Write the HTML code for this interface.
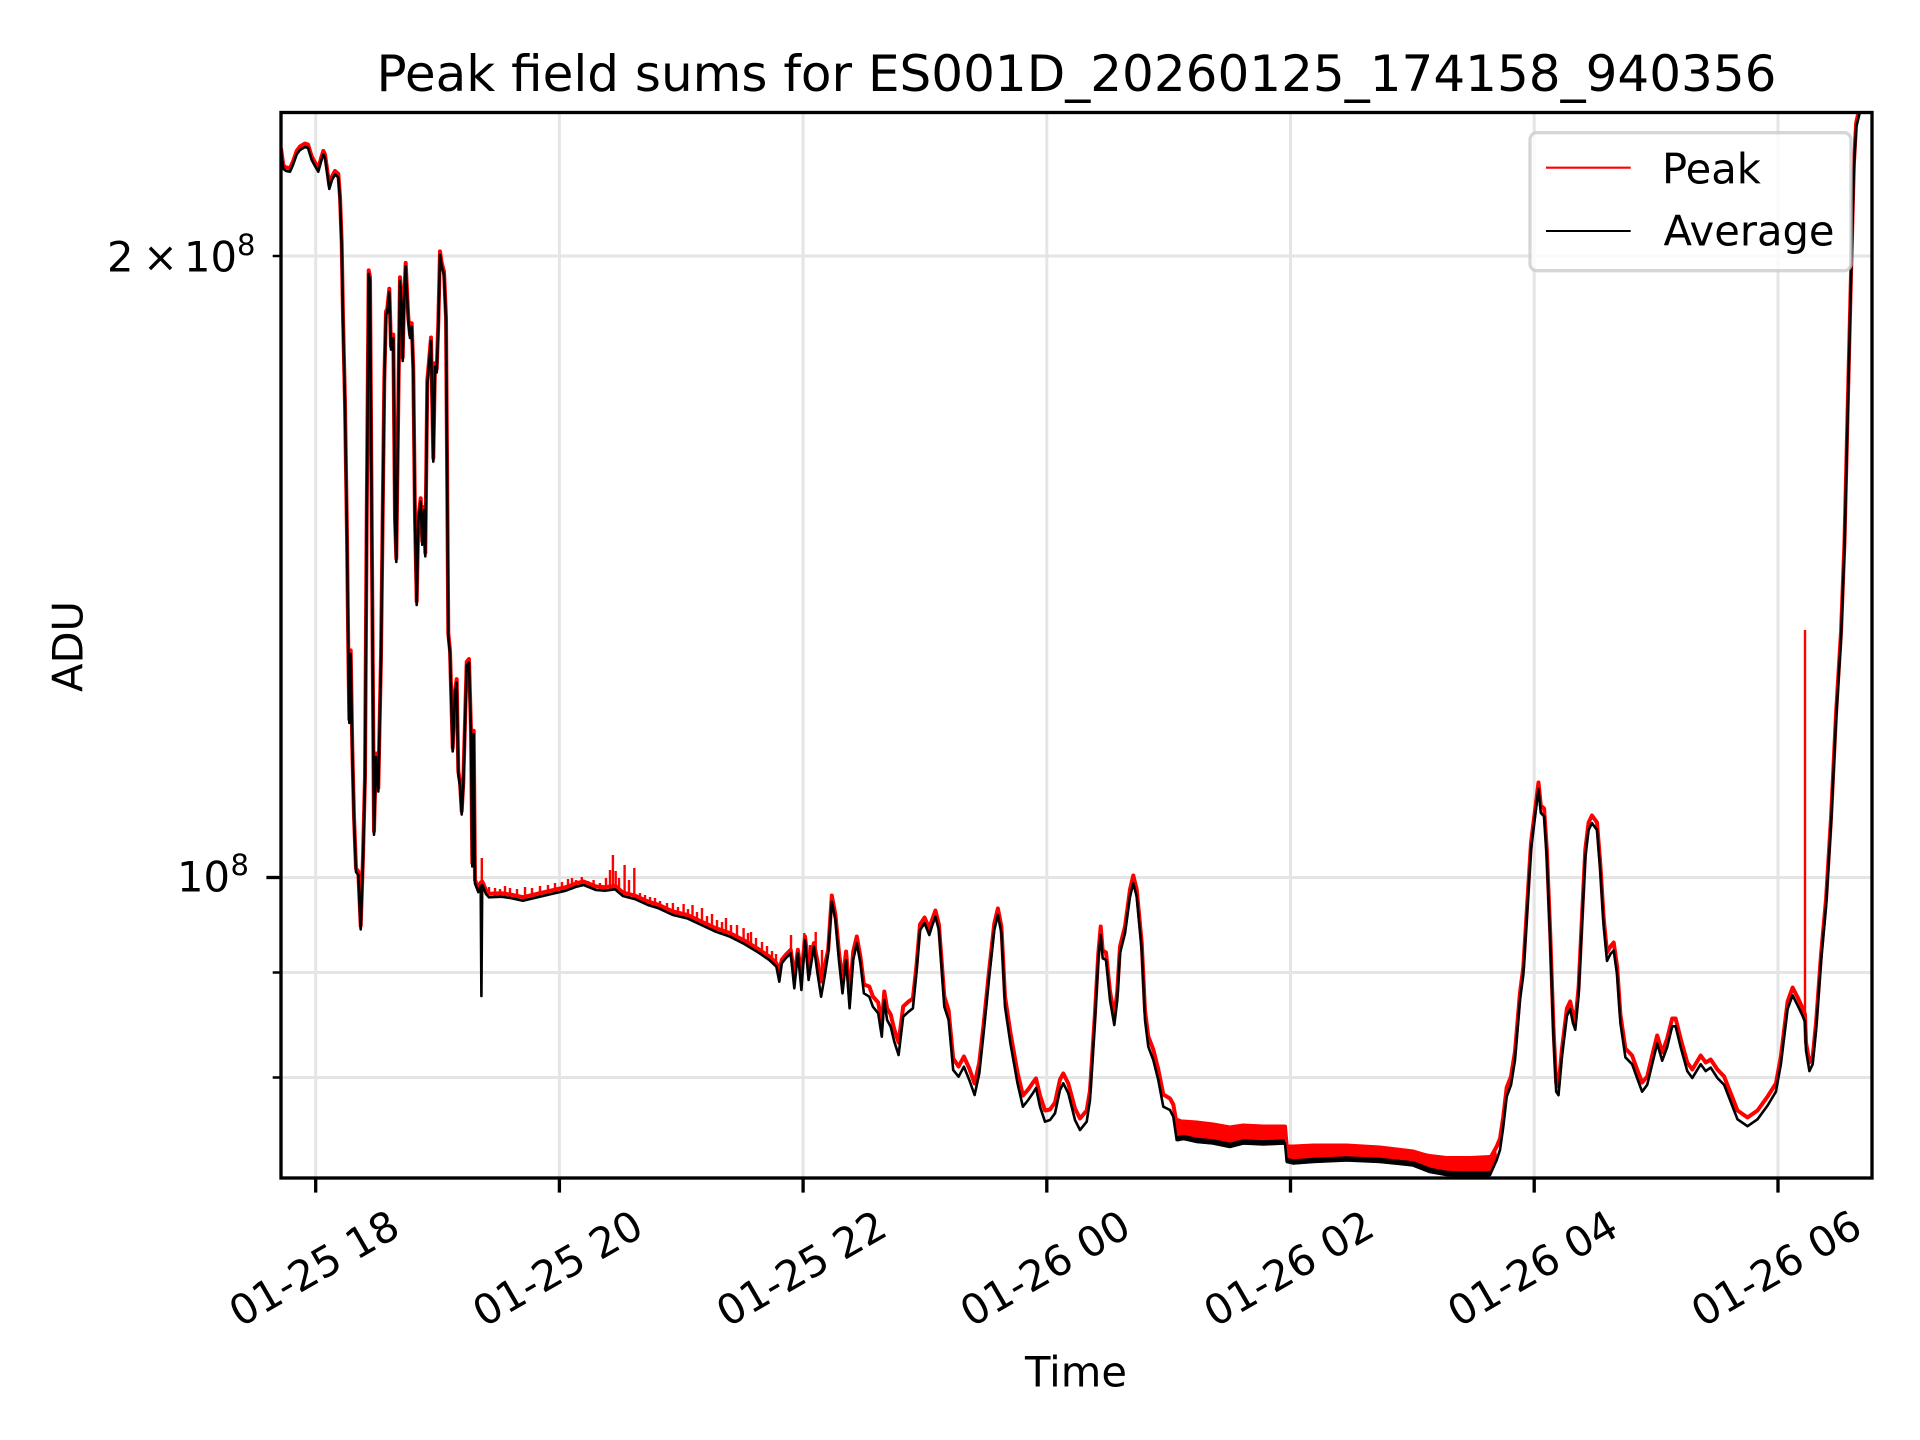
<!DOCTYPE html>
<html>
<head>
<meta charset="utf-8">
<style>
  html, body { margin: 0; padding: 0; background: #ffffff; }
  svg { display: block; }
  text { font-family: "DejaVu Sans", "Liberation Sans", sans-serif; fill: #000; }
</style>
</head>
<body>
<svg width="1920" height="1440" viewBox="0 0 1920 1440" xmlns="http://www.w3.org/2000/svg">
  <rect x="0" y="0" width="1920" height="1440" fill="#ffffff"/>
  <defs>
    <clipPath id="ax">
      <rect x="281" y="112.5" width="1591" height="1065.5"/>
    </clipPath>
  </defs>

  <!-- grid -->
  <g stroke="#e5e5e5" stroke-width="3" fill="none">
    <line x1="315.7" y1="112.5" x2="315.7" y2="1178"/>
    <line x1="559.4" y1="112.5" x2="559.4" y2="1178"/>
    <line x1="803.1" y1="112.5" x2="803.1" y2="1178"/>
    <line x1="1046.8" y1="112.5" x2="1046.8" y2="1178"/>
    <line x1="1290.5" y1="112.5" x2="1290.5" y2="1178"/>
    <line x1="1534.2" y1="112.5" x2="1534.2" y2="1178"/>
    <line x1="1778" y1="112.5" x2="1778" y2="1178"/>
    <line x1="281" y1="256" x2="1872" y2="256"/>
    <line x1="281" y1="877.5" x2="1872" y2="877.5"/>
    <line x1="281" y1="972.5" x2="1872" y2="972.5"/>
    <line x1="281" y1="1077.5" x2="1872" y2="1077.5"/>
  </g>

  <g clip-path="url(#ax)">
    <!-- Peak (red) base line -->
    <path fill="none" stroke="#ff0000" stroke-width="4" stroke-linejoin="round" transform="translate(0,-3.5)"
      d="M281,151.6 L283.3,168.8 286,171 290,171.7 293,165 296.7,154.4 300,150 305,147 308,148 311.7,160 315,166 318.3,171.7 321,162 323.3,154.4 325,158 327,172 329.3,188.9 332,180 335,174.5 338.3,177.4 340,200 341.7,246.3 343,320 345,407 347,540 348.3,653.9 349.3,722.8 350.7,653.9 352.3,751.5 354,820 356,872 358.3,875 360.7,929.4 363,860 365,780 366.7,521.8 368.7,273.9 370,280.7 371.7,521.8 373,700 374,834.7 376,757 378.3,791.6 381,659.6 384.3,384 386,315 387.3,312.3 389.3,292.2 391,349.6 393.3,338.1 395,521.8 396.3,562 398.3,407 400,280.7 401.7,309.4 402.7,361 404,303.7 405.7,266.4 408.3,321 410,338 411.7,326.7 413.3,372.6 415,521.8 416.7,605 418.3,521.8 420.7,501.7 422.3,544.8 424,510.4 425.3,556.3 427.3,384 429.3,361 431,341 433.3,461.6 435,366.8 436.7,372.6 438.3,326.7 440,254.9 441.7,266.4 444,275 446,321 448.3,636.7 450,653.9 452.7,751.5 455,694 456.7,682.6 458.3,774.4 460,785.9 461.7,814.6 463.3,785.9 466.7,665.3 469,662.5 471,734.2 472.3,866.3 473.7,734.2 475,883.5 478.3,892.1 480.7,886 482.2,885 483.6,888 486,894 488.9,897.3 501.4,896.7 512.1,898.3 522.9,900.7 537.1,897.3 551.4,894 565.7,890.7 576.4,886.7 583.6,885 596,890 605,890.7 615,889.3 622.9,896 635.4,899.3 647.9,905 658.6,908.3 672.9,915 687.1,918.3 701.4,925 715.7,931.7 730,936.7 744.3,944 758.6,952.7 769.3,960 776.4,966.7 779.3,975 781.8,963.3 786,958 790.7,953.3 794.3,980 797.9,953.3 801.4,980 805,940 808.6,970 813.9,946.7 817.5,965 821.1,985 824.6,970 828.2,953.3 831.8,899 835.4,918 838.9,955 842.5,985 846.1,955 849.6,1000 853.2,955 856.8,940 860.4,960 863.9,988 869.3,990 872.9,1000 878.2,1006 881.8,1028 884.3,995 887.1,1012 890.7,1018 894.3,1033 898.6,1046 903.2,1010 908.6,1005 912.9,1002 916.4,970 920,928 924.6,921 929.3,932 931.8,924 935.4,914 938.9,928 944.3,1000 948.6,1014 953.2,1062 958.6,1070 963.9,1060 969.3,1072 974.6,1087 979.3,1066 983.6,1028 988.9,976 994.3,927 997.9,912 1001.4,930 1005,1000 1010.4,1036 1017.5,1076 1022.9,1099 1028.2,1093 1033,1086 1036,1082 1040,1099 1045,1114 1050,1113 1055,1106 1060,1083 1063.3,1077 1068.3,1087 1075,1112 1080,1122 1086.7,1114 1090,1094 1095,1016 1098.3,957 1100.7,930 1102.7,954 1106,956 1110,995 1114.3,1019 1117.3,995 1120,950 1125,930 1130,893 1133.3,879 1136.7,893 1141.7,946 1145,1014 1148.3,1040 1153.3,1053 1158.3,1073 1163.3,1098 1170,1102 1173.3,1108 1176.7,1128 1183.3,1125 1196.7,1126 1213.3,1128 1230,1131 1243.3,1129 1263.3,1130 1285,1130 1286.7,1150 1293.3,1150 1313.3,1149 1346.7,1149 1380,1151 1413.3,1155 1430,1160 1446.7,1162 1463.3,1162 1490,1162 1496.7,1150 1500,1142 1503.3,1120 1506.7,1091 1511,1080 1515,1055 1520,996 1523.3,971 1527,911 1531,846 1536,806 1538.5,786 1540.8,809 1544.1,812 1546.8,853 1550.2,936 1553.5,1032 1556.2,1087 1558.5,1090 1561.9,1053 1566.9,1012 1570.2,1005 1572.9,1018 1575.3,1025 1578.6,991 1581.9,922 1585.3,853 1588.6,826 1592,819 1597,826 1600.3,867 1603.7,922 1607,956 1610.4,950 1613.7,946 1617.1,970 1620.4,1018 1625.4,1052 1632.1,1059 1637.1,1073 1642.1,1086 1647.2,1080 1652.2,1059 1657.2,1039 1662.2,1056 1667.2,1042 1672.2,1022 1675.6,1022 1680.6,1042 1687.3,1066 1692.3,1073 1700.7,1059 1705.7,1066 1710.7,1063 1717.4,1073 1724.1,1080 1730.8,1097 1737.5,1114 1747.5,1121 1757.5,1114 1767.6,1100 1775.9,1087 1780.9,1060 1787.6,1005 1792.6,991 1797.7,1001 1802.7,1012 1805,1018 1806,1046 1809.4,1066 1812.7,1060 1816.1,1026 1821.1,957 1826.1,902 1831.1,820 1836.1,716 1841.1,634 1844.5,545 1847.8,407 1851.2,270 1853.9,167 1856.2,126 1859.5,112 1862,104 1875,99"/>

    <!-- dense red bands -->
    <polygon fill="#ff0000" points="1174,1128 1176,1121 1178,1118 1183,1120 1195,1121 1205,1122 1213,1123 1225,1125 1230,1127 1232,1125 1245,1124 1260,1125 1275,1126 1285,1125 1286.7,1140 1286.7,1158 1285,1143 1263.3,1144 1243.3,1143.3 1230,1146.7 1213.3,1143.3 1196.7,1141.7 1183.3,1138.3 1176.7,1140"/>
    <polygon fill="#ff0000" points="1287,1146 1300,1145 1320,1145 1346.7,1145 1360,1146 1380,1147 1400,1149 1413,1151 1430,1154 1446.7,1156 1470,1156 1490,1155 1496,1150 1498,1160 1490,1175 1463,1175 1446.7,1175 1430,1171.7 1413.3,1165 1380,1161.7 1346.7,1160 1313.3,1161.7 1293.3,1163.3 1287,1160"/>

    <!-- red spikes -->
    <path fill="none" stroke="#ff0000" stroke-width="2.4"
      d="M481.8,858V886 M489,887V895 M495,888V896 M500,889V896 M505,886V896 M510,888V897 M517,889V898 M525,887V899 M532,888V897 M540,886V896 M548,885V894 M555,883V893 M562,882V891 M568,879V889 M572,878V888 M576,880V887 M581.8,877V886 M588,881V887 M593.6,880V889 M600,883V890 M606,878V890 M610,870V889 M612.9,855V889 M615.7,871V889 M619,878V892 M624.6,865V894 M629,880V897 M634.3,868V898 M640,893V901 M645,895V903 M650,897V906 M655,898V907 M660,901V909 M667,903V912 M672.9,903V914 M678,907V916 M683.6,904V917 M688,909V918 M692.5,905V920 M697,912V922 M702,908V924 M707,916V927 M712,914V929 M717,920V931 M722,922V933 M726,918V934 M731,925V936 M737,925V939 M743.6,928V942 M748,933V945 M751,932V947 M756,938V951 M762,942V955 M767,946V958 M772,951V961 M776,954V965 M791,935V952 M804.3,933V950 M810,945V975 M815.7,932V950 M822,950V975 M1805,630V1020"/>

    <!-- Average (black) -->
    <path fill="none" stroke="#000000" stroke-width="2.6" stroke-linejoin="round"
      d="M281,151.6 L283.3,168.8 286,171 290,171.7 293,165 296.7,154.4 300,150 305,147 308,148 311.7,160 315,166 318.3,171.7 321,162 323.3,154.4 325,158 327,172 329.3,188.9 332,180 335,174.5 338.3,177.4 340,200 341.7,246.3 343,320 345,407 347,540 348.3,653.9 349.3,722.8 350.7,653.9 352.3,751.5 354,820 356,872 358.3,875 360.7,929.4 363,860 365,780 366.7,521.8 368.7,273.9 370,280.7 371.7,521.8 373,700 374,834.7 376,757 378.3,791.6 381,659.6 384.3,384 386,315 387.3,312.3 389.3,292.2 391,349.6 393.3,338.1 395,521.8 396.3,562 398.3,407 400,280.7 401.7,309.4 402.7,361 404,303.7 405.7,266.4 408.3,321 410,338 411.7,326.7 413.3,372.6 415,521.8 416.7,605 418.3,521.8 420.7,501.7 422.3,544.8 424,510.4 425.3,556.3 427.3,384 429.3,361 431,341 433.3,461.6 435,366.8 436.7,372.6 438.3,326.7 440,254.9 441.7,266.4 444,275 446,321 448.3,636.7 450,653.9 452.7,751.5 455,694 456.7,682.6 458.3,774.4 460,785.9 461.7,814.6 463.3,785.9 466.7,665.3 469,662.5 471,734.2 472.3,866.3 473.7,734.2 475,883.5 478.3,892.1 480.7,886 481.4,996 482.2,885 483.6,888 486,894 488.9,897.3 501.4,896.7 512.1,898.3 522.9,900.7 537.1,897.3 551.4,894 565.7,890.7 576.4,886.7 583.6,885 596,890 605,890.7 615,889.3 622.9,896 635.4,899.3 647.9,905 658.6,908.3 672.9,915 687.1,918.3 701.4,925 715.7,931.7 730,936.7 744.3,944 758.6,952.7 769.3,960 776.4,966.7 779.3,981.7 781.8,963.3 786,958 790.7,953.3 794.3,988.3 797.9,953.3 801.4,990 805,940 808.6,980 813.9,946.7 817.5,973.3 821.1,996.7 824.6,976.7 828.2,953.3 831.8,901.7 835.4,920 838.9,960 842.5,993.3 846.1,960 849.6,1008.3 853.2,960 856.8,943.3 860.4,963.3 863.9,993.3 869.3,996.7 872.9,1006.7 878.2,1013.3 881.8,1036.7 884.3,1000 887.1,1020 890.7,1026.7 894.3,1041.7 898.6,1055 903.2,1016.7 908.6,1011.7 912.9,1008.3 916.4,973.3 920,930 924.6,923.3 929.3,935 931.8,926.7 935.4,916.7 938.9,930 944.3,1006.7 948.6,1020 953.2,1070 958.6,1076.7 963.9,1066.7 969.3,1080 974.6,1095 979.3,1073.3 983.6,1033.3 988.9,980 994.3,930 997.9,915 1001.4,933.3 1005,1006.7 1010.4,1043.3 1017.5,1083.3 1022.9,1106.7 1028.2,1100 1033,1093 1036,1088 1040,1106.7 1045,1121.7 1050,1120 1055,1113.3 1060,1090 1063.3,1083.3 1068.3,1093.3 1075,1120 1080,1130 1086.7,1121.7 1090,1100 1095,1020 1098.3,960 1100.7,935 1102.7,958.3 1106,960 1110,1000 1114.3,1025 1117.3,1000 1120,953.3 1125,933.3 1130,896.7 1133.3,883.3 1136.7,896.7 1141.7,950 1145,1020 1148.3,1046.7 1153.3,1060 1158.3,1080 1163.3,1106.7 1170,1110 1173.3,1116.7 1176.7,1140 1183.3,1138.3 1196.7,1141.7 1213.3,1143.3 1230,1146.7 1243.3,1143.3 1263.3,1144 1285,1143.3 1286.7,1161.7 1293.3,1163.3 1313.3,1161.7 1346.7,1160 1380,1161.7 1413.3,1165 1430,1171.7 1446.7,1175 1463.3,1175 1490,1175 1496.7,1160 1500,1150 1503.3,1126.7 1506.7,1096.7 1511,1085 1515,1060 1520,1000 1523.3,975 1527,915 1531,850 1536,809 1538.5,789 1540.8,812.8 1544.1,816.3 1546.8,857.6 1550.2,940.2 1553.5,1036.6 1556.2,1091.7 1558.5,1095.2 1561.9,1057.3 1566.9,1016 1570.2,1009.1 1572.9,1022.9 1575.3,1029.8 1578.6,995.3 1581.9,926.4 1585.3,857.6 1588.6,830 1592,823.1 1597,830 1600.3,871.3 1603.7,926.4 1607,960.9 1610.4,954 1613.7,950.6 1617.1,974.7 1620.4,1022.9 1625.4,1057.3 1632.1,1064.2 1637.1,1078 1642.1,1091.7 1647.2,1084.8 1652.2,1064.2 1657.2,1043.5 1662.2,1060.7 1667.2,1047 1672.2,1026.3 1675.6,1026.3 1680.6,1047 1687.3,1071.1 1692.3,1078 1700.7,1064.2 1705.7,1071.1 1710.7,1067.6 1717.4,1078 1724.1,1084.8 1730.8,1102 1737.5,1119.3 1747.5,1126.2 1757.5,1119.3 1767.6,1105.5 1775.9,1091.7 1780.9,1064.2 1787.6,1009.1 1792.6,995.3 1797.7,1005.6 1802.7,1016 1805,1022 1806,1050.4 1809.4,1071.1 1812.7,1064.2 1816.1,1029.8 1821.1,960.9 1826.1,905.8 1831.1,823.1 1836.1,719.8 1841.1,637.2 1844.5,547.7 1847.8,409.9 1851.2,272.2 1853.9,168.9 1856.2,127.5 1859.5,113.8 1862,105 1875,100"/>

    <!-- thicker black noise in flat regions -->
    <path fill="none" stroke="#000000" stroke-width="5.5" stroke-linejoin="round"
      d="M1176.7,1139 L1183.3,1137.5 1196.7,1140.5 1213.3,1142 1230,1145.5 1243.3,1142 1263.3,1143 1285,1142 M1286.7,1160.5 L1293.3,1162 1313.3,1160.5 1346.7,1159 1380,1160.5 1413.3,1164 1430,1170.5 1446.7,1173.5 1463.3,1174 1490,1174"/>
  </g>

  <!-- spines -->
  <rect x="281" y="112.5" width="1591" height="1065.5" fill="none" stroke="#000" stroke-width="3.33" stroke-linejoin="miter"/>

  <!-- y ticks -->
  <g stroke="#000">
    <line x1="266.4" y1="877.5" x2="281" y2="877.5" stroke-width="3.33"/>
    <line x1="272.7" y1="256" x2="281" y2="256" stroke-width="2.5"/>
    <line x1="272.7" y1="972.5" x2="281" y2="972.5" stroke-width="2.5"/>
    <line x1="272.7" y1="1077.5" x2="281" y2="1077.5" stroke-width="2.5"/>
  </g>
  <!-- x ticks -->
  <g stroke="#000" stroke-width="3.33">
    <line x1="315.7" y1="1178" x2="315.7" y2="1192.6"/>
    <line x1="559.4" y1="1178" x2="559.4" y2="1192.6"/>
    <line x1="803.1" y1="1178" x2="803.1" y2="1192.6"/>
    <line x1="1046.8" y1="1178" x2="1046.8" y2="1192.6"/>
    <line x1="1290.5" y1="1178" x2="1290.5" y2="1192.6"/>
    <line x1="1534.2" y1="1178" x2="1534.2" y2="1192.6"/>
    <line x1="1778" y1="1178" x2="1778" y2="1192.6"/>
  </g>

  <!-- y tick labels -->
  <text x="107" y="271.7" font-size="41.67">2</text>
  <text x="143" y="271.7" font-size="41.67">×</text>
  <text x="184" y="271.7" font-size="41.67">10</text>
  <text x="237" y="255" font-size="29">8</text>
  <text x="177" y="891.7" font-size="41.67">10</text>
  <text x="230.5" y="875" font-size="29">8</text>

  <!-- x tick labels -->
  <g font-size="41.67" text-anchor="middle">
    <text x="321.2" y="1281" transform="rotate(-30 321.2 1281)">01-25 18</text>
    <text x="564.9" y="1281" transform="rotate(-30 564.9 1281)">01-25 20</text>
    <text x="808.6" y="1281" transform="rotate(-30 808.6 1281)">01-25 22</text>
    <text x="1052.3" y="1281" transform="rotate(-30 1052.3 1281)">01-26 00</text>
    <text x="1296" y="1281" transform="rotate(-30 1296 1281)">01-26 02</text>
    <text x="1539.7" y="1281" transform="rotate(-30 1539.7 1281)">01-26 04</text>
    <text x="1783.5" y="1281" transform="rotate(-30 1783.5 1281)">01-26 06</text>
  </g>

  <!-- axis labels -->
  <text x="1076" y="1386.7" font-size="41.67" text-anchor="middle">Time</text>
  <text transform="translate(82.3,646.5) rotate(-90)" font-size="41.67" text-anchor="middle">ADU</text>

  <!-- title -->
  <text x="1076.5" y="91" font-size="50" text-anchor="middle">Peak field sums for ES001D_20260125_174158_940356</text>

  <!-- legend -->
  <rect x="1530" y="132.7" width="321" height="138" rx="7" ry="7" fill="#ffffff" fill-opacity="0.8" stroke="#cccccc" stroke-opacity="0.8" stroke-width="3.33"/>
  <line x1="1546" y1="167.7" x2="1630.7" y2="167.7" stroke="#ff0000" stroke-width="2.1"/>
  <line x1="1546" y1="231" x2="1630.7" y2="231" stroke="#000000" stroke-width="2.1"/>
  <text x="1662" y="183.3" font-size="41.67">Peak</text>
  <text x="1663.5" y="245.7" font-size="41.67">Average</text>
</svg>
</body>
</html>
